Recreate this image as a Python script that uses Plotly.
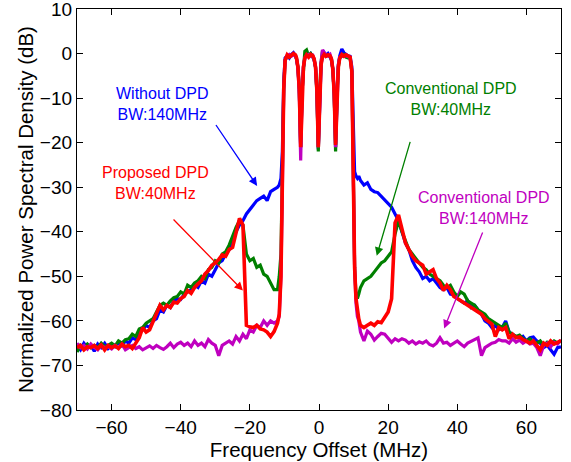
import plotly.graph_objects as go

# ---------------- data ----------------
x_left = list(range(-70, -12))          # -70 ... -13 MHz
x_band = [-12.0, -11.5, -11.0, -10.6, -10.2, -9.8, -9.2, -8.6, -8.0, -7.4,
          -6.8, -6.5, -6.1, -5.7, -5.3, -4.9, -4.5, -4.1, -3.6, -3.0,
          -2.4, -1.8, -1.4, -1.0, -0.6, -0.2, 0.2, 0.6, 1.0, 1.5,
          2.0, 2.6, 3.2, 3.6, 4.0, 4.4, 4.8, 5.2, 5.6, 6.0,
          6.6, 7.2, 7.8, 8.4, 9.0, 9.5, 9.9, 10.3, 10.7, 11.1,
          11.5, 12.0]
x_right = list(range(13, 71))           # 13 ... 70 MHz

# Without DPD, BW:140MHz (blue)
blue_left = [-65.5, -66.5, -65.0, -66.0, -65.5, -66.8, -65.2, -66.0, -65.0, -66.2,
             -65.5, -65.8, -64.8, -65.6, -64.5, -65.0, -63.8, -64.2, -62.5, -62.0,
             -61.0, -61.5, -60.0, -59.5, -57.5, -58.0, -56.5, -57.0, -55.5, -55.0,
             -55.2, -54.0, -53.5, -53.0, -52.0, -52.5, -51.0, -51.5, -49.5, -50.0,
             -48.5, -47.0, -46.5, -45.0, -44.0, -42.0, -40.0, -38.5, -37.5, -36.0,
             -35.0, -34.0, -33.0, -32.5, -32.0, -33.0, -31.0, -30.5]
blue_band = [-30.0, -29.5, -28.0, -22.0, -6.0, -1.0, -0.5, -1.0, -0.2, 0.2,
             -0.5, -1.2, -3.0, -8.0, -21.0, -9.0, -3.0, -1.0, 0.2, -0.5,
             0.0, -0.8, -1.5, -3.0, -8.5, -21.5, -8.5, -2.5, -0.5, 0.2,
             -0.4, 0.0, -0.8, -1.5, -3.5, -9.0, -21.0, -9.0, -2.5, -0.5,
             1.0, 0.2, -0.2, -0.5, -0.6, -3.0, -15.0, -26.5, -27.5, -28.0,
             -27.5, -28.5]
blue_right = [-29.5, -29.0, -30.5, -31.0, -31.2, -32.0, -32.8, -33.5, -34.5, -36.0,
              -37.5, -40.0, -42.5, -44.0, -46.5, -48.0, -49.0, -50.5, -50.0, -51.0,
              -50.5, -51.5, -52.5, -53.0, -52.5, -54.0, -54.2, -55.0, -55.5, -56.0,
              -55.5, -57.0, -56.5, -57.5, -58.5, -60.0, -60.5, -61.5, -61.0, -62.0,
              -61.5, -60.0, -62.5, -63.0, -63.5, -64.0, -63.5, -64.5, -63.8, -63.6,
              -64.5, -65.0, -66.0, -65.5, -66.5, -67.5, -66.0, -65.8]

# Conventional DPD, BW:40MHz (green)
green_left = [-67.0, -65.5, -66.0, -65.2, -66.0, -65.5, -66.0, -65.0, -65.8, -65.5,
              -65.0, -65.6, -64.5, -65.0, -64.2, -64.0, -63.0, -63.5, -61.8, -61.5,
              -60.5, -60.0, -59.5, -58.0, -56.5, -56.0, -56.5, -55.5, -54.8, -54.5,
              -53.5, -54.0, -52.0, -52.5, -51.5, -51.0, -50.0, -50.5, -48.5, -48.0,
              -46.5, -47.0, -45.0, -44.5, -43.0, -41.0, -39.0, -37.5, -38.5, -45.0,
              -46.5, -46.0, -48.0, -47.5, -49.5, -50.0, -51.5, -53.0]
green_band = [-53.0, -50.0, -45.0, -28.0, -8.0, -1.5, -0.5, -0.8, -0.3, -0.2,
              -0.5, -1.2, -3.0, -8.0, -21.0, -8.5, -2.5, 0.5, 0.8, -0.5,
              0.0, -0.6, -1.3, -3.2, -9.0, -22.0, -8.5, -2.0, 0.5, -0.2,
              -0.6, -0.3, -0.7, -1.3, -3.5, -9.5, -22.0, -9.0, -3.0, -1.0,
              -0.5, -0.2, -0.8, -1.0, -1.0, -4.0, -25.0, -48.0, -54.0, -55.0,
              -54.0, -52.5]
green_right = [-51.0, -50.5, -50.0, -49.0, -48.0, -47.0, -46.5, -45.5, -44.5, -40.5,
               -37.5, -40.0, -42.0, -44.0, -45.0, -46.0, -47.0, -48.0, -48.5, -49.5,
               -50.0, -50.5, -51.0, -52.0, -52.5, -52.0, -53.5, -54.5, -53.5, -54.0,
               -55.5, -56.0, -56.5, -57.5, -58.0, -58.5, -59.5, -60.0, -60.5, -61.0,
               -61.5, -60.5, -62.5, -63.0, -63.5, -63.2, -64.0, -64.5, -64.0, -64.8,
               -65.0, -64.5, -65.5, -64.8, -65.2, -64.5, -65.0, -64.5]

# Conventional DPD, BW:140MHz (magenta)
magenta_left = [-65.0, -66.0, -65.5, -66.3, -65.2, -66.0, -66.5, -65.5, -66.0, -65.8,
                -66.3, -65.5, -66.0, -65.2, -66.5, -66.0, -65.5, -66.2, -65.8, -66.5,
                -66.0, -65.6, -66.2, -65.5, -66.0, -66.4, -65.8, -65.0, -66.0, -65.2,
                -64.8, -65.5, -65.0, -65.8, -64.5, -65.5, -65.0, -65.8, -64.2, -65.0,
                -65.5, -67.8, -65.5, -65.0, -64.5, -65.2, -63.5, -64.5, -63.0, -64.0,
                -62.0, -62.5, -61.0, -61.5, -60.0, -61.0, -60.0, -60.5]
magenta_band = [-60.0, -59.0, -50.0, -30.0, -8.0, -1.5, -0.5, -0.2, -0.6, -0.3,
                -0.5, -1.2, -3.5, -9.0, -24.0, -9.0, -3.0, -1.0, -0.5, -0.2,
                -0.6, -0.4, -1.2, -3.0, -8.5, -21.0, -8.0, -2.0, 0.8, 0.2,
                -0.4, -0.6, -0.2, -1.2, -3.5, -9.0, -21.0, -9.0, -2.5, -0.8,
                -0.5, -0.4, -0.5, -0.6, -0.8, -4.0, -25.0, -48.0, -56.0, -59.0,
                -60.0, -62.5]
magenta_right = [-64.5, -62.3, -63.0, -64.3, -63.5, -62.8, -63.0, -64.0, -64.8, -64.0,
                 -64.5, -64.0, -64.3, -65.0, -64.5, -65.2, -64.7, -65.0, -64.5, -65.3,
                 -65.6, -65.0, -63.8, -65.0, -64.8, -65.5, -65.0, -64.5, -65.2, -65.8,
                 -65.0, -64.6, -64.3, -63.8, -67.8, -66.0, -65.5, -65.0, -64.8, -64.2,
                 -64.5, -64.5, -65.0, -64.0, -64.8, -64.3, -65.0, -64.5, -65.2, -65.0,
                 -66.0, -67.8, -65.5, -65.0, -65.8, -64.8, -65.2, -64.3]

# Proposed DPD, BW:40MHz (red)
red_left = [-66.0, -65.5, -66.5, -65.8, -66.0, -65.5, -66.2, -65.4, -66.5, -65.5,
            -66.0, -65.6, -66.2, -65.2, -65.8, -65.5, -66.2, -65.0, -63.8, -61.5,
            -62.5, -62.0, -60.0, -58.5, -56.5, -57.5, -56.5, -57.0, -55.8, -56.0,
            -55.0, -54.5, -53.2, -53.8, -52.5, -51.7, -51.0, -49.5, -48.7, -47.5,
            -47.0, -46.2, -45.2, -45.5, -44.0, -43.5, -40.5, -37.0, -38.5, -61.0,
            -61.3, -61.5, -61.0, -61.8, -62.0, -62.5, -63.5, -62.4]
red_band = [-60.5, -58.5, -50.0, -30.0, -8.0, -1.5, -0.3, -0.8, -0.4, 0.0,
            -0.3, -1.0, -3.0, -8.0, -21.0, -9.0, -3.0, -1.0, -0.3, -0.8,
            -0.2, -0.5, -1.2, -3.0, -8.5, -21.0, -8.5, -2.5, -0.8, -0.2,
            -0.6, -0.3, -0.5, -1.2, -3.5, -9.0, -20.5, -9.0, -3.0, -1.0,
            -0.2, -0.6, -0.3, -0.5, -0.8, -4.0, -25.0, -48.0, -55.0, -57.5,
            -59.5, -61.0]
red_right = [-61.5, -61.0, -60.5, -61.0, -60.2, -60.4, -59.0, -58.0, -55.0, -38.0,
             -36.2, -39.5, -42.5, -44.0, -45.5, -46.5, -47.0, -47.5, -49.5, -49.0,
             -48.5, -50.5, -51.5, -53.2, -52.0, -53.0, -54.5, -55.0, -55.5, -56.0,
             -56.5, -57.0, -57.5, -58.0, -58.5, -59.5, -60.0, -60.7, -63.5, -61.5,
             -62.0, -61.5, -64.0, -63.0, -63.8, -63.6, -64.2, -64.5, -65.0, -64.5,
             -65.5, -66.5, -65.0, -65.5, -64.5, -65.2, -64.8, -64.4]

x_ticks = [-60, -40, -20, 0, 20, 40, 60]
y_ticks = [-80, -70, -60, -50, -40, -30, -20, -10, 0, 10]

# annotation labels and arrow (tail -> head) positions in data units
labels = ["Without DPD<br>BW:140MHz", "Proposed DPD<br>BW:40MHz",
          "Conventional DPD<br>BW:40MHz", "Conventional DPD<br>BW:140MHz"]
label_x = [-45.5, -47.2, 38.1, 47.7]
label_y = [-11.3, -29.0, -10.1, -34.6]
arrow_tail_x = [-30.1, -42.5, 26.5, 47.5]
arrow_tail_y = [-15.7, -36.9, -19.5, -39.8]
arrow_head_x = [-17.9, -22.0, 16.7, 36.2]
arrow_head_y = [-29.7, -53.2, -45.4, -61.7]

# ---------------- figure ----------------
BLUE, GREEN, MAGENTA, RED = "#0000FF", "#008000", "#BF00BF", "#FF0000"
label_colors = [BLUE, RED, GREEN, MAGENTA]
FONT = "Arial, Liberation Sans, Helvetica, sans-serif"

x_all = x_left + x_band + x_right
series = [
    ("Without DPD", blue_left + blue_band + blue_right, BLUE, 3.2),
    ("Conventional DPD 40MHz", green_left + green_band + green_right, GREEN, 3.2),
    ("Conventional DPD 140MHz", magenta_left + magenta_band + magenta_right, MAGENTA, 3.2),
    ("Proposed DPD", red_left + red_band + red_right, RED, 3.6),
]

fig = go.Figure()
for name, ys, col, w in series:
    fig.add_trace(go.Scatter(x=x_all, y=ys, mode="lines", name=name,
                             line=dict(color=col, width=w), showlegend=False))

annotations = []
for i in range(4):
    annotations.append(dict(x=label_x[i], y=label_y[i], xref="x", yref="y",
                            text=labels[i], showarrow=False, align="center",
                            font=dict(family=FONT, size=16, color=label_colors[i])))
    annotations.append(dict(x=arrow_head_x[i], y=arrow_head_y[i], xref="x", yref="y",
                            ax=arrow_tail_x[i], ay=arrow_tail_y[i], axref="x", ayref="y",
                            text="", showarrow=True, arrowhead=2, arrowsize=1.3,
                            arrowwidth=1.3, arrowcolor=label_colors[i], standoff=0))

axis_common = dict(showgrid=False, zeroline=False, showline=True, linecolor="black",
                   linewidth=1.2, mirror="ticks", ticks="inside", ticklen=6,
                   tickcolor="black", tickwidth=1, automargin=False,
                   ticklabeloverflow="allow",
                   tickfont=dict(family=FONT, size=19, color="black"))

fig.update_layout(
    width=571, height=462,
    margin=dict(l=77, r=10, t=9, b=52),
    paper_bgcolor="white", plot_bgcolor="white",
    xaxis=dict(range=[-70, 70], tickvals=x_ticks,
               title=dict(text="Frequency Offset (MHz)", standoff=0,
                          font=dict(family=FONT, size=20.5, color="black")),
               **axis_common),
    yaxis=dict(range=[-80, 10], tickvals=y_ticks,
               title=dict(text="Normalized Power Spectral Density (dB)", standoff=0,
                          font=dict(family=FONT, size=20.5, color="black")),
               **axis_common),
    annotations=annotations,
)

fig.write_html("out.html", config={"displayModeBar": False},
               post_script="document.body.style.margin='0';document.body.style.overflow='hidden';")
